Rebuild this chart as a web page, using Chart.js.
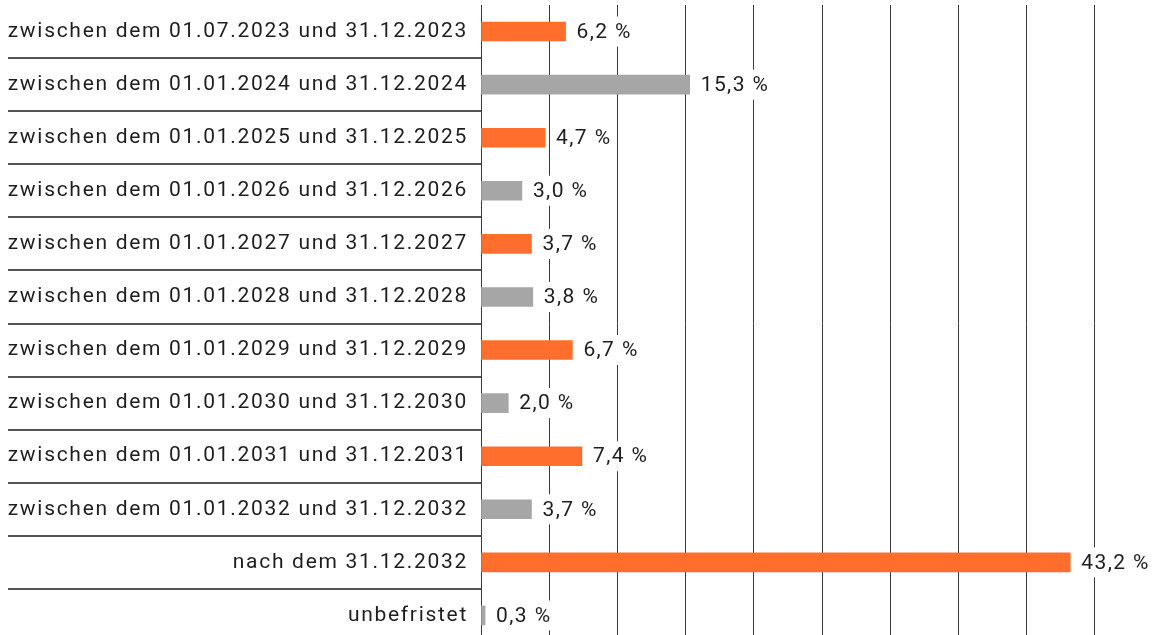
<!DOCTYPE html>
<html>
<head>
<meta charset="utf-8">
<script src="https://cdn.jsdelivr.net/npm/chart.js@4/dist/chart.umd.min.js"></script>
<style>
  html, body { margin: 0; padding: 0; background: #fff; overflow: hidden; }
  #wrap { width: 1163px; height: 642px; position: relative; }
</style>
</head>
<body>
<div id="wrap"><canvas id="barChart"></canvas></div>
<script>
const categories = [
  "zwischen dem 01.07.2023 und 31.12.2023",
  "zwischen dem 01.01.2024 und 31.12.2024",
  "zwischen dem 01.01.2025 und 31.12.2025",
  "zwischen dem 01.01.2026 und 31.12.2026",
  "zwischen dem 01.01.2027 und 31.12.2027",
  "zwischen dem 01.01.2028 und 31.12.2028",
  "zwischen dem 01.01.2029 und 31.12.2029",
  "zwischen dem 01.01.2030 und 31.12.2030",
  "zwischen dem 01.01.2031 und 31.12.2031",
  "zwischen dem 01.01.2032 und 31.12.2032",
  "nach dem 31.12.2032",
  "unbefristet"
];
const shares = [6.2, 15.3, 4.7, 3.0, 3.7, 3.8, 6.7, 2.0, 7.4, 3.7, 43.2, 0.3];
const xMax = 50;
const xStep = 5;

const orange = '#ff6e2d';
const gray = '#a6a6a6';
const textColor = '#1e1e1e';
const lineColor = '#3a3a3a';

const fmt = v => v.toFixed(1).replace('.', ',') + ' %';

// letter spacing for the category labels (Chart.js has no option for it)
const labelSpacing = {
  id: 'labelSpacing',
  beforeDraw(chart) { chart.ctx.letterSpacing = '1.7px'; },
  beforeDatasetsDraw(chart) { chart.ctx.letterSpacing = '0px'; }
};

// separators between the rows in the label column
const rowLines = {
  id: 'rowLines',
  afterDraw(chart) {
    const ctx = chart.ctx;
    const y = chart.scales.y;
    ctx.save();
    ctx.strokeStyle = '#555';
    ctx.lineWidth = 2;
    for (let i = 1; i < categories.length; i++) {
      const py = Math.round((y.getPixelForTick(i - 1) + y.getPixelForTick(i)) / 2);
      ctx.beginPath();
      ctx.moveTo(8, py);
      ctx.lineTo(chart.chartArea.left, py);
      ctx.stroke();
    }
    ctx.restore();
  }
};

// value labels on white boxes that cut the grid lines
const valueLabels = {
  id: 'valueLabels',
  afterDatasetsDraw(chart) {
    const ctx = chart.ctx;
    const meta = chart.getDatasetMeta(0);
    ctx.save();
    ctx.font = '21px Roboto';
    ctx.letterSpacing = '1.4px';
    ctx.textBaseline = 'middle';
    ctx.textAlign = 'left';
    meta.data.forEach((bar, i) => {
      const txt = fmt(shares[i]);
      const w = ctx.measureText(txt).width;
      const x = bar.x + 11;
      ctx.fillStyle = '#fff';
      ctx.fillRect(x - 5, bar.y - 15, w + 10, 30);
      ctx.fillStyle = textColor;
      ctx.fillText(txt, x, bar.y + 1);
    });
    ctx.restore();
  }
};

new Chart(document.getElementById('barChart'), {
  type: 'bar',
  data: {
    labels: categories,
    datasets: [{
      data: shares,
      backgroundColor: ctx => (ctx.dataIndex % 2 === 0 ? orange : gray),
      borderWidth: 0,
      barThickness: 19
    }]
  },
  options: {
    indexAxis: 'y',
    responsive: true,
    maintainAspectRatio: false,
    animation: false,
    layout: { padding: { top: 5, left: 0, right: 0, bottom: 0 } },
    plugins: {
      legend: { display: false },
      tooltip: { enabled: false }
    },
    scales: {
      x: {
        min: 0,
        max: xMax,
        ticks: { display: false, stepSize: xStep },
        grid: {
          drawTicks: false,
          color: c => (c.tick && c.tick.value === xMax ? 'rgba(0,0,0,0)' : lineColor),
          lineWidth: 1
        },
        border: { display: false },
        afterFit(scale) {
          scale.height = 0;
          scale.paddingLeft = 0;
          scale.paddingRight = 0;
        }
      },
      y: {
        grid: { display: false, drawTicks: false },
        border: { display: true, color: lineColor, width: 1 },
        ticks: {
          color: textColor,
          padding: 13,
          font: { family: 'Roboto', size: 21 }
        },
        afterFit(scale) {
          scale.width = 481;
          scale.paddingTop = 0;
          scale.paddingBottom = 0;
        }
      }
    }
  },
  plugins: [labelSpacing, rowLines, valueLabels]
});
</script>
</body>
</html>
